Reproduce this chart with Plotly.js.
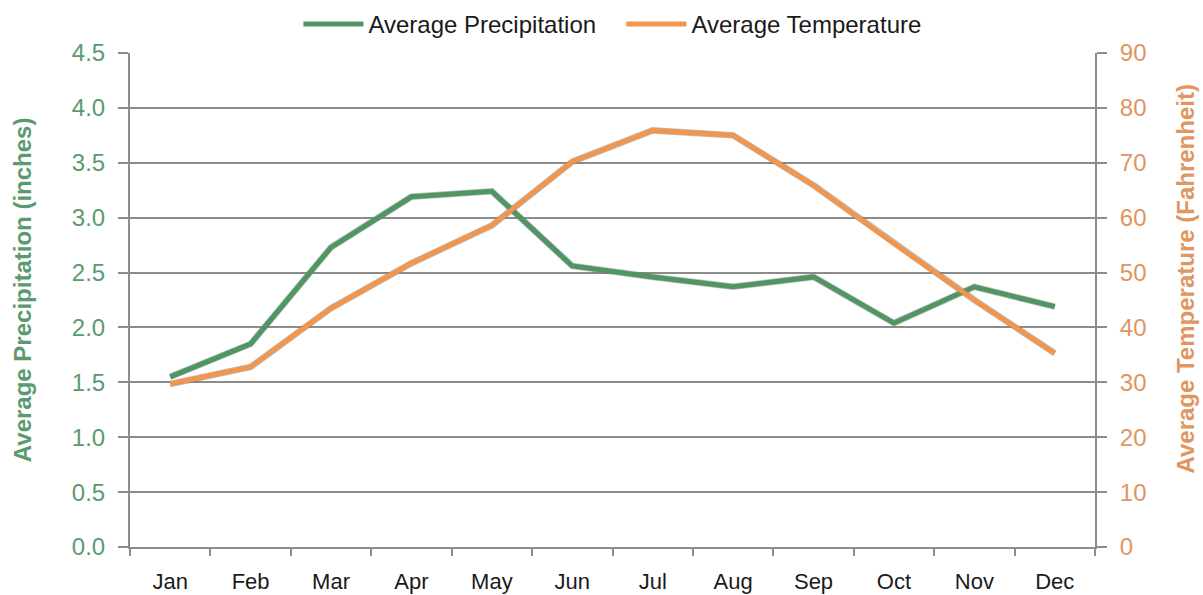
<!DOCTYPE html>
<html>
<head>
<meta charset="utf-8">
<script src="https://cdn.plot.ly/plotly-3.0.1.min.js"></script>
<style>
html,body{margin:0;padding:0;background:#fff;}
#chart{width:1203px;height:595px;}
</style>
</head>
<body>
<div id="chart"></div>
<script>
var months = ['Jan','Feb','Mar','Apr','May','Jun','Jul','Aug','Sep','Oct','Nov','Dec'];
var precipitation = [1.55, 1.85, 2.73, 3.19, 3.24, 2.56, 2.46, 2.37, 2.46, 2.04, 2.37, 2.19];
var temperature = [29.7, 32.8, 43.5, 51.7, 58.6, 70.2, 75.9, 75.0, 65.9, 55.3, 45.0, 35.3];
var leftTitle = 'Average Precipitation (inches)';
var rightTitle = 'Average Temperature (Fahrenheit)';

var GREEN = '#4f9663';
var ORANGE = '#f0964f';
var GREEN_TXT = '#5b9a6f';
var ORANGE_TXT = '#e0965f';
var GRID = '#8c8c8c';
var FONT = 'Liberation Sans, Arial, sans-serif';

var traces = [
  {x: months, y: precipitation, type: 'scatter', mode: 'lines', showlegend: false, hoverinfo: 'skip',
   line: {color: 'rgba(110,110,110,0.45)', width: 6.5}, yaxis: 'y'},
  {x: months, y: temperature, type: 'scatter', mode: 'lines', showlegend: false, hoverinfo: 'skip',
   line: {color: 'rgba(110,110,110,0.45)', width: 6.5}, yaxis: 'y2'},
  {x: months, y: precipitation, type: 'scatter', mode: 'lines', name: 'Average Precipitation',
   line: {color: GREEN, width: 5}, yaxis: 'y'},
  {x: months, y: temperature, type: 'scatter', mode: 'lines', name: 'Average Temperature',
   line: {color: ORANGE, width: 5}, yaxis: 'y2'}
];

var layout = {
  width: 1203, height: 595,
  margin: {l: 130, r: 108, t: 53, b: 48},
  paper_bgcolor: '#ffffff', plot_bgcolor: '#ffffff',
  font: {family: FONT, size: 22, color: '#222222'},
  showlegend: true,
  legend: {orientation: 'h', x: 0.1745, xanchor: 'left', y: 0.997, yanchor: 'top', yref: 'container',
           font: {family: FONT, size: 24, color: '#1a1a1a'}, itemwidth: 60, entrywidth: 248, entrywidthmode: 'pixels',
           bgcolor: 'rgba(0,0,0,0)'},
  xaxis: {type: 'category', range: [-0.5, 11.5], showgrid: false, zeroline: false, showline: true, linecolor: GRID, linewidth: 2,
          ticks: 'outside', tickson: 'boundaries', ticklen: 7, tickwidth: 2, tickcolor: GRID,
          tickfont: {family: FONT, size: 22, color: '#1a1a1a'}, ticklabelstandoff: 14, fixedrange: true},
  yaxis: {range: [0, 4.5], dtick: 0.5, tickformat: '.1f', showgrid: true, gridcolor: GRID, gridwidth: 2,
          zeroline: false, showline: true, linecolor: GRID, linewidth: 2,
          ticks: 'outside', ticklen: 10, tickwidth: 2, tickcolor: GRID,
          tickfont: {family: FONT, size: 24, color: GREEN_TXT}, ticklabelstandoff: 8,
          fixedrange: true},
  yaxis2: {range: [0, 90], dtick: 10, overlaying: 'y', side: 'right', showgrid: false, zeroline: false,
           showline: true, linecolor: GRID, linewidth: 2,
           ticks: 'outside', ticklen: 10, tickwidth: 2, tickcolor: GRID,
           tickfont: {family: FONT, size: 24, color: ORANGE_TXT}, ticklabelstandoff: 8,
           fixedrange: true},
  annotations: [
    {text: '<b>' + leftTitle + '</b>', xref: 'paper', yref: 'paper', x: -0.1119, y: 0.520,
     xanchor: 'center', yanchor: 'middle', textangle: -90, showarrow: false,
     font: {family: FONT, size: 24, color: GREEN_TXT}},
    {text: '<b>' + rightTitle + '</b>', xref: 'paper', yref: 'paper', x: 1.0943, y: 0.5435,
     xanchor: 'center', yanchor: 'middle', textangle: -90, showarrow: false,
     font: {family: FONT, size: 24, color: ORANGE_TXT}}
  ]
};

Plotly.newPlot('chart', traces, layout, {displayModeBar: false, staticPlot: true});
</script>
</body>
</html>
